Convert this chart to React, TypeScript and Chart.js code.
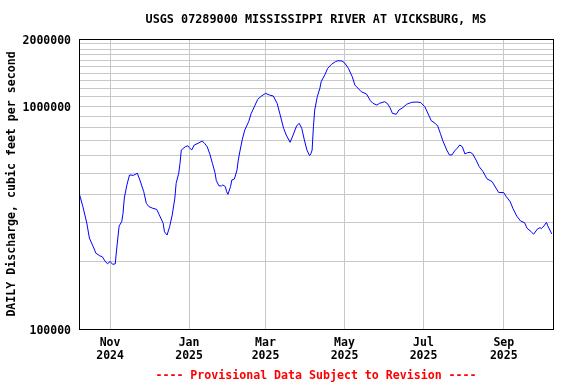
import { useEffect, useRef } from "react";
import { Chart, registerables } from "chart.js";

Chart.register(...registerables);

const TITLE = "USGS 07289000 MISSISSIPPI RIVER AT VICKSBURG, MS";
const Y_TITLE = "DAILY Discharge, cubic feet per second";
const FOOTNOTE = "---- Provisional Data Subject to Revision ----";

// day index counted from 2024-10-08
const dayIndex = [
  0, 3, 6, 8, 11, 13, 16, 18, 20, 22, 24, 26, 28, 29, 31, 33, 34, 35, 37, 39,
  42, 44, 45, 47, 50, 52, 54, 57, 60, 62, 65, 66, 68, 70, 72, 74, 75, 77, 78, 79,
  82, 84, 85, 87, 89, 92, 95, 97, 99, 101, 103, 105, 106, 108, 110, 111, 113, 114, 115, 117,
  118, 120, 122, 123, 124, 126, 128, 131, 133, 136, 138, 141, 144, 147, 150, 153, 155, 158, 160, 163,
  165, 168, 170, 172, 174, 176, 178, 179, 180, 181, 182, 184, 186, 187, 190, 192, 195, 198, 200, 203,
  205, 208, 211, 213, 216, 218, 222, 225, 227, 230, 232, 236, 238, 240, 242, 245, 247, 250, 253, 257,
  261, 264, 267, 270, 272, 275, 277, 279, 281, 284, 286, 288, 290, 292, 294, 296, 298, 300, 302, 304,
  307, 309, 312, 315, 319, 321, 324, 328, 330, 333, 335, 338, 341, 344, 346, 349, 351, 354, 356, 357,
  359, 361, 362, 364, 365,
];

const discharge = [
  409000, 354000, 299000, 256000, 234000, 219000, 213000, 211000, 202000, 196000,
  201000, 195000, 196000, 226000, 290000, 303000, 331000, 387000, 443000, 491000,
  489000, 496000, 500000, 466000, 413000, 366000, 354000, 348000, 344000, 325000,
  298000, 273000, 264000, 288000, 325000, 386000, 450000, 500000, 554000, 635000,
  657000, 664000, 653000, 635000, 669000, 681000, 697000, 681000, 657000, 610000,
  554000, 503000, 464000, 439000, 438000, 443000, 435000, 413000, 402000, 435000,
  466000, 471000, 517000, 573000, 616000, 705000, 781000, 851000, 928000, 1011000,
  1073000, 1110000, 1141000, 1121000, 1110000, 1029000, 928000, 795000, 742000, 688000,
  734000, 814000, 837000, 795000, 705000, 635000, 600000, 610000, 635000, 808000,
  960000, 1102000, 1202000, 1287000, 1389000, 1477000, 1540000, 1582000, 1598000, 1593000,
  1565000, 1477000, 1355000, 1243000, 1193000, 1160000, 1133000, 1057000, 1029000, 1011000,
  1029000, 1046000, 1029000, 988000, 928000, 919000, 960000, 984000, 1019000, 1040000,
  1043000, 1036000, 994000, 912000, 860000, 837000, 814000, 755000, 697000, 635000,
  604000, 604000, 629000, 647000, 669000, 657000, 610000, 618000, 621000, 610000,
  567000, 535000, 508000, 472000, 458000, 438000, 410000, 409000, 392000, 372000,
  348000, 321000, 305000, 300000, 283000, 274000, 266000, 281000, 285000, 282000,
  290000, 301000, 290000, 275000, 267000,
];

const X_MIN = 0;
const X_MAX = 366;
const xTickDays = [24, 85, 144, 205, 266, 328];
const xTickLabels = [
  ["Nov", "2024"],
  ["Jan", "2025"],
  ["Mar", "2025"],
  ["May", "2025"],
  ["Jul", "2025"],
  ["Sep", "2025"],
];

const Y_MIN = 100000;
const Y_MAX = 2000000;
const yGridValues = [
  100000, 200000, 300000, 400000, 500000, 600000, 700000, 800000, 900000,
  1000000, 1100000, 1200000, 1300000, 1400000, 1500000, 1600000, 1700000,
  1800000, 1900000, 2000000,
];
const yLabelled = [100000, 1000000, 2000000];

const FONT = "'DejaVu Sans Mono', 'Liberation Mono', monospace";

const framePlugin = {
  id: "frame",
  afterDraw(chart: any) {
    const { ctx, chartArea } = chart;
    const l = Math.floor(chartArea.left) + 0.5;
    const t = Math.floor(chartArea.top) + 0.5;
    const r = Math.floor(chartArea.right) + 0.5;
    const b = Math.floor(chartArea.bottom) + 0.5;
    ctx.save();
    ctx.strokeStyle = "#000000";
    ctx.lineWidth = 1;
    ctx.strokeRect(l, t, r - l, b - t);
    ctx.restore();
  },
};

export default function App() {
  const canvasRef = useRef<HTMLCanvasElement | null>(null);

  useEffect(() => {
    const canvas = canvasRef.current;
    if (!canvas) return;
    const points = dayIndex.map((d, i) => ({ x: d, y: discharge[i] }));

    const chart = new Chart(canvas, {
      type: "line",
      data: {
        datasets: [
          {
            data: points,
            borderColor: "#0000ff",
            borderWidth: 1,
            pointRadius: 0,
            tension: 0,
            fill: false,
          },
        ],
      },
      plugins: [framePlugin],
      options: {
        animation: false,
        responsive: false,
        devicePixelRatio: 1,
        layout: { padding: { left: 0, right: 23, top: 0, bottom: 0 } },
        plugins: {
          legend: { display: false },
          tooltip: { enabled: false },
          title: {
            display: true,
            text: TITLE,
            fullSize: false,
            color: "#000000",
            font: { family: FONT, size: 11.8, weight: "bold", lineHeight: "14px" },
            padding: { top: 13, bottom: 12 },
          },
          subtitle: {
            display: true,
            text: FOOTNOTE,
            position: "bottom",
            fullSize: false,
            color: "#ff0000",
            font: { family: FONT, size: 11.6, weight: "bold", lineHeight: "13px" },
            padding: { top: 5.5, bottom: 1.5 },
          },
        },
        scales: {
          x: {
            type: "linear",
            min: X_MIN,
            max: X_MAX,
            afterBuildTicks: (scale: any) => {
              scale.ticks = xTickDays.map((v) => ({ value: v }));
            },
            afterFit: (scale: any) => {
              scale.height = 35;
            },
            ticks: {
              autoSkip: false,
              maxRotation: 0,
              minRotation: 0,
              padding: 7.5,
              color: "#000000",
              font: { family: FONT, size: 11.5, weight: "bold", lineHeight: "13px" },
              callback: (value: any) => {
                const i = xTickDays.indexOf(Number(value));
                return i >= 0 ? xTickLabels[i] : "";
              },
            },
            grid: { color: "#c8c8c8", lineWidth: 1, drawTicks: false },
            border: { display: true, color: "#000000", width: 1 },
          },
          y: {
            type: "logarithmic",
            min: Y_MIN,
            max: Y_MAX,
            afterBuildTicks: (scale: any) => {
              scale.ticks = yGridValues.map((v) => ({ value: v }));
            },
            afterFit: (scale: any) => {
              scale.width = 79;
            },
            ticks: {
              autoSkip: false,
              padding: 8,
              labelOffset: 2,
              color: "#000000",
              font: { family: FONT, size: 11.5, weight: "bold", lineHeight: "13px" },
              callback: (value: any) => {
                const v = Number(value);
                return yLabelled.includes(v) ? String(v) : "";
              },
            },
            title: {
              display: true,
              text: Y_TITLE,
              color: "#000000",
              font: { family: FONT, size: 11.6, weight: "bold", lineHeight: "14px" },
              padding: { top: 5, bottom: 0 },
            },
            grid: { color: "#c8c8c8", lineWidth: 1, drawTicks: false },
            border: { display: true, color: "#000000", width: 1 },
          },
        },
      },
    } as any);

    return () => {
      chart.destroy();
    };
  }, []);

  return (
    <div
      style={{
        position: "fixed",
        left: 0,
        top: 0,
        width: 576,
        height: 384,
        background: "#ffffff",
      }}
    >
      <canvas ref={canvasRef} width={576} height={384} style={{ width: 576, height: 384 }} />
    </div>
  );
}
